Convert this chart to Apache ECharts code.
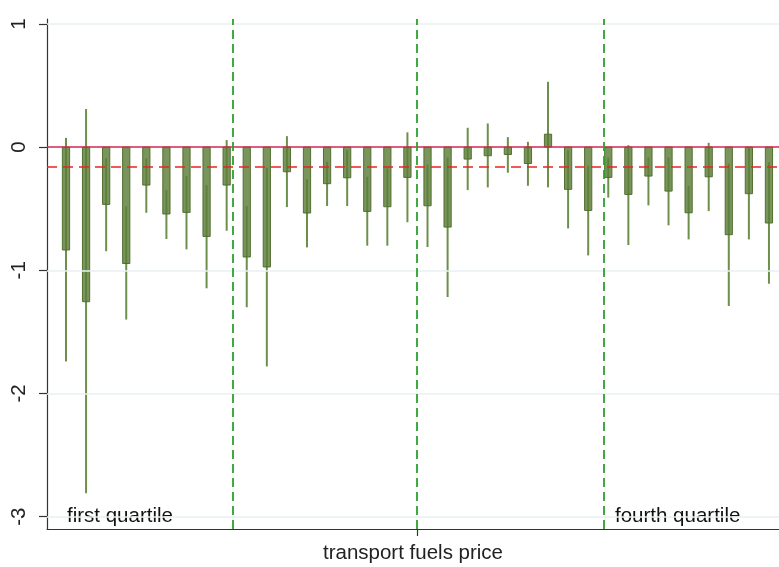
<!DOCTYPE html>
<html>
<head>
<meta charset="utf-8">
<script src="https://cdn.jsdelivr.net/npm/echarts@6/dist/echarts.min.js"></script>
<style>html,body{margin:0;padding:0;background:#fff}#c{width:779px;height:567px}</style>
</head>
<body>
<div id="c"></div>
<script>
// ---- data ----
const positions = [1,2,3,4,5,6,7,8,9,10,11,12,13,14,15,16,17,18,19,20,21,22,23,24,25,26,27,28,29,30,31,32,33,34,35,36];
const estimates = [-0.835,-1.255,-0.465,-0.945,-0.308,-0.543,-0.53,-0.725,-0.308,
  -0.892,-0.973,-0.20,-0.535,-0.297,-0.249,-0.522,-0.484,-0.246,
  -0.476,-0.649,-0.097,-0.07,-0.06,-0.133,0.105,-0.343,-0.514,
  -0.246,-0.384,-0.235,-0.357,-0.533,-0.241,-0.711,-0.378,-0.616];
const ciLow = [-1.74,-2.81,-0.845,-1.40,-0.533,-0.746,-0.83,-1.146,-0.679,
  -1.30,-1.78,-0.487,-0.814,-0.478,-0.478,-0.80,-0.80,-0.61,
  -0.811,-1.217,-0.349,-0.327,-0.208,-0.314,-0.327,-0.66,-0.879,
  -0.41,-0.795,-0.473,-0.635,-0.749,-0.519,-1.29,-0.749,-1.109];
const ciHigh = [0.075,0.31,-0.09,-0.48,-0.092,-0.349,-0.235,-0.308,0.057,
  -0.478,-0.166,0.089,-0.262,-0.119,-0.024,-0.24,-0.173,0.12,
  -0.141,-0.084,0.157,0.192,0.081,0.043,0.53,-0.026,-0.149,
  -0.084,0.016,-0.084,-0.084,-0.316,0.035,-0.133,-0.003,-0.123];
const meanEffect = -0.162;
const quartileCuts = [9.28, 18.47, 27.75];
const medianTick = [18.47];
const yTicks = [-3,-2,-1,0,1];
const gridValues = [-3,-2,-1,1];
const xLabel = 'transport fuels price';
const quartileLabels = ['first quartile', 'fourth quartile'];

const FONT = '"Liberation Sans", Arial, sans-serif';
const chart = echarts.init(document.getElementById('c'), null, {renderer:'canvas'});
const data = positions.map((p,i)=>[p, estimates[i], ciLow[i], ciHigh[i]]);

chart.setOption({
  animation:false,
  backgroundColor:'#ffffff',
  grid:{left:47, right:0, top:19, bottom:38, containLabel:false, outerBoundsMode:'none'},
  xAxis:{
    type:'value', min:0.055, max:36.5,
    axisLine:{show:true, onZero:false, lineStyle:{color:'#333', width:1.2}},
    axisTick:{show:true, customValues:medianTick, length:7, lineStyle:{color:'#333', width:1.2}},
    axisLabel:{show:false},
    splitLine:{show:false},
    name:xLabel, nameLocation:'middle', nameGap:14,
    nameTextStyle:{fontFamily:FONT, fontSize:20.5, color:'#222'}
  },
  yAxis:{
    type:'value', min:-3.1, max:1.04,
    axisLine:{show:true, onZero:false, lineStyle:{color:'#333', width:1.2}},
    axisTick:{show:true, customValues:yTicks, length:8, lineStyle:{color:'#333', width:1.2}},
    axisLabel:{show:true, customValues:yTicks, rotate:90, margin:17, fontFamily:FONT, fontSize:20.5, color:'#222'},
    splitLine:{show:false}
  },
  graphic:[
    {type:'text', left:67, top:506, style:{text:quartileLabels[0], font:'20.5px '+FONT, fill:'#111'}},
    {type:'text', left:615, top:506, style:{text:quartileLabels[1], font:'20.5px '+FONT, fill:'#111'}}
  ],
  series:[
    {
      type:'line', data:[], z:1, silent:true,
      markLine:{symbol:'none', silent:true, label:{show:false},
        lineStyle:{color:'#e9f0f3', width:1.5, type:'solid'},
        data: gridValues.map(v=>({yAxis:v}))}
    },
    {
      type:'custom', z:3,
      data:data,
      renderItem:function(params, api){
        const x = api.value(0), v = api.value(1), lo = api.value(2), hi = api.value(3);
        const p0 = api.coord([x,0]), p1 = api.coord([x,v]);
        const pl = api.coord([x,lo]), ph = api.coord([x,hi]);
        const w = api.size([1,0])[0]*0.36;
        return {type:'group', children:[
          {type:'line', shape:{x1:pl[0], y1:pl[1], x2:ph[0], y2:ph[1]},
            style:{stroke:'#6e8f4c', lineWidth:2}},
          {type:'rect', shape:{x:p0[0]-w/2, y:Math.min(p0[1],p1[1]), width:w, height:Math.abs(p1[1]-p0[1])},
            style:{fill:'rgba(92,126,56,0.82)', stroke:'rgba(78,108,44,0.95)', lineWidth:1}}
        ]};
      }
    },
    {
      type:'line', data:[], z:5, silent:true,
      markLine:{symbol:'none', silent:true, label:{show:false},
        data:[
          {yAxis:0, lineStyle:{color:'#d4264f', width:1.6, type:'solid'}},
          {yAxis:meanEffect, lineStyle:{color:'#ee2222', width:1.6, type:[10,6]}}
        ].concat(quartileCuts.map(c=>({xAxis:c, lineStyle:{color:'#2ea02e', width:1.8, type:[9,5]}})))
      }
    }
  ]
});
</script>
</body>
</html>
